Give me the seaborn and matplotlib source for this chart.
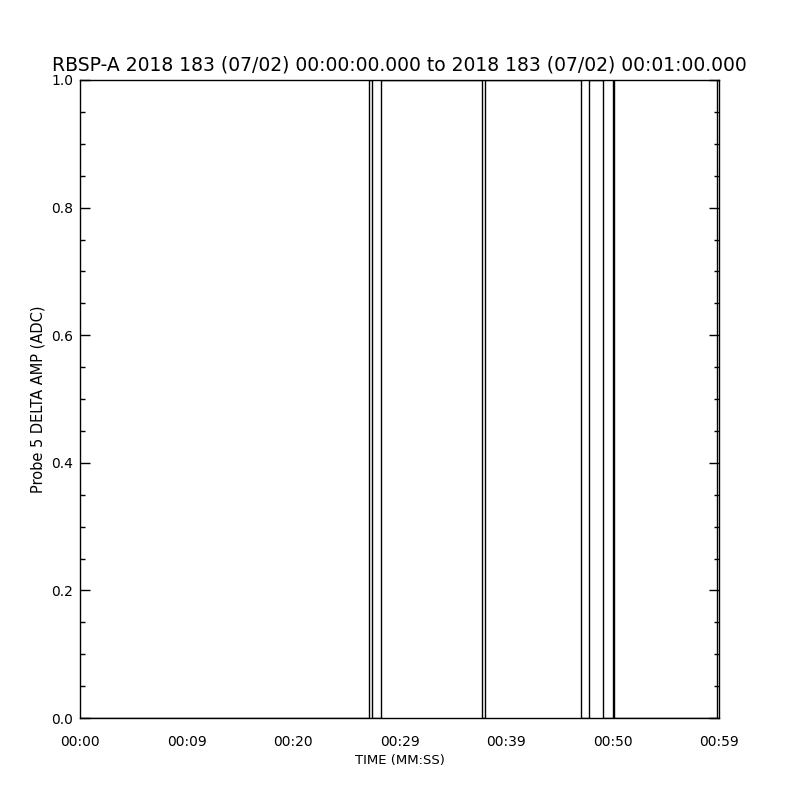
import pandas as pd
import matplotlib
matplotlib.use('Agg')
import matplotlib.pyplot as plt
import seaborn as sns
from matplotlib.ticker import MultipleLocator

# Probe 5 delta amp - step signal (time in seconds, value in ADC)
time_sec = [0.0, 27.12, 27.12, 27.40, 27.40, 28.25, 28.25, 37.69, 37.69,
            38.03, 38.03, 47.06, 47.06, 47.75, 47.75, 49.06, 49.06,
            50.00, 50.00, 50.08, 50.08, 50.16, 50.16, 59.75, 59.75, 60.0]
amp = [0, 0, 1, 1, 0, 0, 1, 1, 0,
       0, 1, 1, 0, 0, 1, 1, 0,
       0, 1, 1, 0.5, 0.5, 0, 0, 1, 1]

tick_pos = [0, 10, 20, 30, 40, 50, 60]
tick_labels = ['00:00', '00:09', '00:20', '00:29', '00:39', '00:50', '00:59']

df = pd.DataFrame({'t': time_sec, 'amp': amp})

sns.set_style("white")
plt.rcParams['font.family'] = ['DejaVu Sans']
plt.rcParams['text.color'] = 'black'
plt.rcParams['axes.labelcolor'] = 'black'
plt.rcParams['xtick.color'] = 'black'
plt.rcParams['ytick.color'] = 'black'

fig = plt.figure(figsize=(8, 8), dpi=100)
ax = fig.add_axes([0.1, 0.1025, 0.799, 0.7975])

sns.lineplot(data=df, x='t', y='amp', sort=False, estimator=None,
             color='black', linewidth=1.0, ax=ax)

ax.set_xlim(0, 60)
ax.set_ylim(0, 1)
ax.set_xticks(tick_pos)
ax.set_xticklabels(tick_labels, fontsize=10)
ax.yaxis.set_major_locator(MultipleLocator(0.2))
ax.yaxis.set_minor_locator(MultipleLocator(0.05))
ax.set_yticklabels([f'{v:.1f}' for v in ax.get_yticks()], fontsize=10)

ax.tick_params(axis='x', length=0, pad=12)
ax.tick_params(axis='y', which='major', direction='in', length=7.2,
               width=1, left=True, right=True, pad=5)
ax.tick_params(axis='y', which='minor', direction='in', length=3.6,
               width=1, left=True, right=True)

for s in ax.spines.values():
    s.set_color('black')
    s.set_linewidth(1.0)

ax.set_xlabel('TIME (MM:SS)', fontsize=9.5, labelpad=4)
ax.set_ylabel('Probe 5 DELTA AMP (ADC)', fontsize=10.5, labelpad=4)
ax.set_title('RBSP-A 2018 183 (07/02) 00:00:00.000 to 2018 183 (07/02) 00:01:00.000',
             fontsize=13.5, pad=7)

plt.savefig('out.png', dpi=100)
